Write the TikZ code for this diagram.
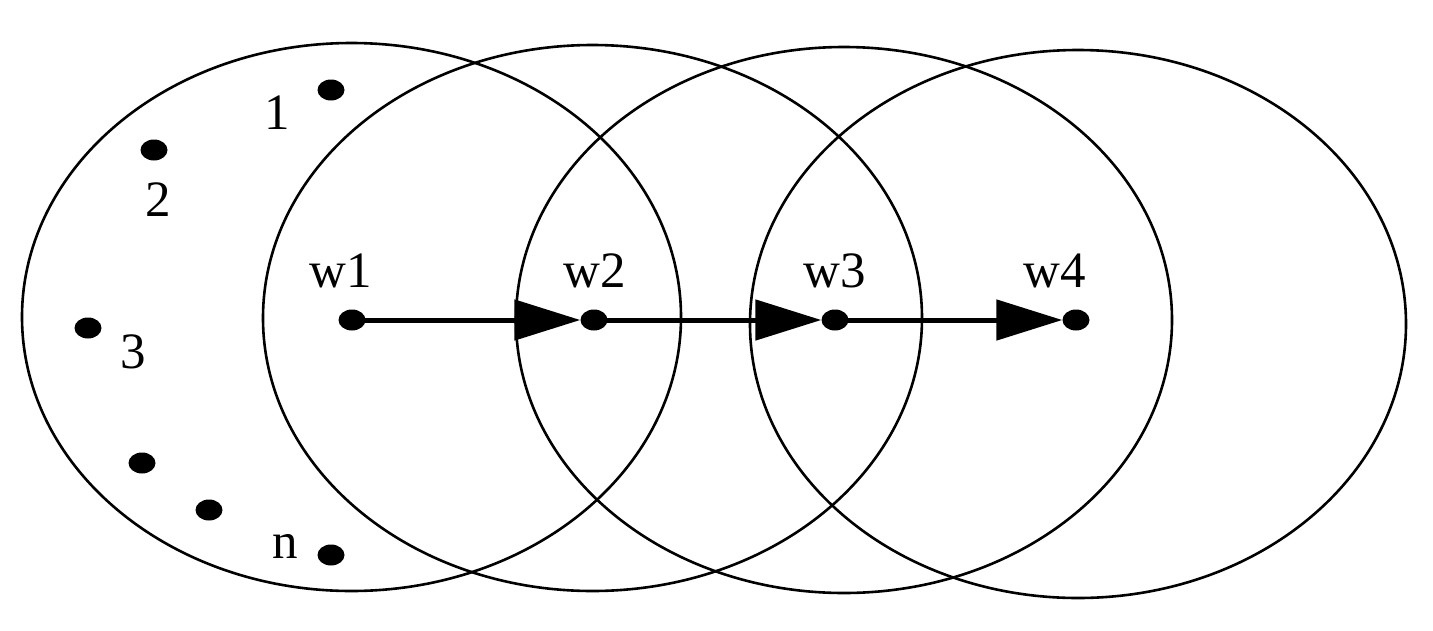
\documentclass[tikz,border=0pt]{standalone}
\usepackage{fontspec}
\setmainfont{Liberation Serif}
\usetikzlibrary{arrows.meta,shapes.geometric}
\begin{document}
\begin{tikzpicture}[x=1pt,y=-1pt,
  ring/.style={draw=black,line width=2.6pt},
  dot/.style={ellipse,fill=black,inner sep=0pt,minimum width=27pt,minimum height=21pt},
  lbl/.style={inner sep=0pt,font=\fontsize{51}{55}\selectfont},
  walk/.style={line width=5pt,-{Triangle[length=66pt,width=40pt]}}]
\useasboundingbox (0,0) rectangle (1433,630);
\draw[ring] (351.5,317) ellipse [x radius=329.5,y radius=274];
\draw[ring] (592.5,318) ellipse [x radius=329.5,y radius=273];
\draw[ring] (844,320) ellipse [x radius=328,y radius=273];
\draw[ring] (1078,324) ellipse [x radius=328,y radius=274];
\node[dot] (p1) at (331,90) {};
\node[dot] (p2) at (154,150) {};
\node[dot] (p3) at (88,328) {};
\node[dot] (p4) at (142,463) {};
\node[dot] (p5) at (209,510) {};
\node[dot] (pn) at (331,555) {};
\node[lbl] (l1) at (277,113) {1};
\node[lbl] (l2) at (158,200) {2};
\node[lbl] (l3) at (133,352) {3};
\node[lbl] (ln) at (285,546) {n};
\node[dot] (w1) at (352,320) {};
\node[dot] (w2) at (594,320) {};
\node[dot] (w3) at (835,320) {};
\node[dot] (w4) at (1076,320) {};
\node[lbl] (t1) at (341,271) {w1};
\node[lbl] (t2) at (595,271) {w2};
\node[lbl] (t3) at (835,271) {w3};
\node[lbl] (t4) at (1055,271) {w4};
\draw[walk] (w1.center) -- (w2);
\draw[walk] (w2.center) -- (w3);
\draw[walk] (w3.center) -- (w4);
\end{tikzpicture}
\end{document}
